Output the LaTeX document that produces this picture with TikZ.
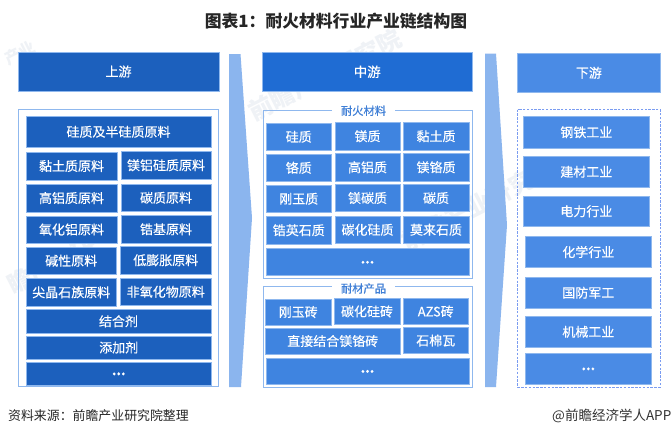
\documentclass[tikz,border=0pt]{standalone}
\usepackage{fontspec}
\setmainfont{Noto Sans CJK SC}
\newfontfamily\cellfont[FakeBold=0.3]{Noto Sans CJK SC}
\usetikzlibrary{calc}
\definecolor{darkblue}{HTML}{1C60BD}
\definecolor{midhead}{HTML}{1F6CD3}
\definecolor{lowhead}{HTML}{4A8BE5}
\definecolor{midblue}{HTML}{3F84E0}
\definecolor{edgeblue}{HTML}{8FB8EE}
\definecolor{arrowblue}{HTML}{8BB5EE}
\definecolor{labelblue}{HTML}{3F7FD6}
\definecolor{wmark}{HTML}{EFF2F6}
\tikzset{
  cell/.style={draw=edgeblue,line width=0.7pt,inner sep=0pt,outer sep=0pt,text=white,font=\cellfont\fontsize{13}{13}\selectfont,align=center},
  upcell/.style={cell,fill=darkblue},
  midcell/.style={cell,fill=midblue},
  lowcell/.style={cell,fill=lowhead},
  framebox/.style={draw=edgeblue,line width=0.8pt},
  dashframe/.style={draw=edgeblue!85!blue,line width=0.9pt,dash pattern=on 2.4pt off 1.4pt},
  flowarrow/.style={fill=arrowblue,draw=none},
  framelabel/.style={fill=white,inner sep=0pt,minimum width=63pt,minimum height=8pt,text=labelblue,font=\cellfont\fontsize{11.3}{11.3}\selectfont},
  wm/.style={text=wmark,font=\bfseries\fontsize{24}{24}\selectfont,rotate=27,inner sep=0pt},
}
% name, x1, y1, x2, y2, style, text
\newcommand{\cellbox}[7]{%
  \node[#6,minimum width=#4pt-#2pt,minimum height=#5pt-#3pt] (#1) at ({(#2+#4)/2*1pt},{-(#3+#5)/2*1pt}) {#7};}
\newcommand{\more}{\raisebox{-3.5pt}{\bfseries ...}}
\begin{document}
\begin{tikzpicture}[x=1pt,y=-1pt]
\useasboundingbox[fill=white] (0,0) rectangle (672,437);
% watermarks
\node[wm] (w1) at (325,75) {前瞻产业研究院};
\node[wm] (w2) at (478,205) {前瞻产业研究院};
\node[wm] (w3) at (52,265) {瞻产业研};
\node[wm,font=\bfseries\fontsize{16}{16}\selectfont] (w4) at (20,53) {产业};
% title and source
\node[font=\bfseries\fontsize{16.8}{16.8}\selectfont,text=black!85,inner sep=0pt] (title) at (336,21) {图表1：耐火材料行业产业链结构图};
\node[font=\fontsize{12.9}{12.9}\selectfont,text=black!85,inner sep=0pt,anchor=west] (source) at (8,416) {资料来源：前瞻产业研究院整理};
\node[font=\fontsize{13.5}{13.5}\selectfont,text=black!80,inner sep=0pt,anchor=east] (credit) at (671.5,416) {@前瞻经济学人APP};
% flow arrows
\fill[flowarrow] (229,54) -- (240.5,54) -- (252,218) -- (241,387) -- (229,387) -- cycle;
\fill[flowarrow] (485,53.5) -- (496,53.5) -- (507,225) -- (496,387) -- (485,387) -- cycle;
% headers
\cellbox{up}{18}{52}{219}{91}{upcell}{上游}
\cellbox{mid}{262.5}{52.5}{472}{91}{cell,fill=midhead,font=\cellfont\fontsize{13.5}{13.5}\selectfont}{中游}
\cellbox{low}{517.7}{53.5}{660}{92}{lowcell}{下游}
% frames
\draw[framebox] (18,109.5) rectangle (218,386);
\draw[framebox] (263,110.7) rectangle (472,278);
\draw[framebox] (263,286) rectangle (472,387);
\draw[dashframe] (517.5,109.5) rectangle (660,387);
\node[framelabel] (fl1) at (363.5,110.7) {耐火材料};
\node[framelabel] (fl2) at (363.5,288.5) {耐材产品};
% upstream
\cellbox{a1}{26}{116.5}{211}{147}{upcell}{硅质及半硅质原料}
\cellbox{a2}{26}{152}{117}{180}{upcell}{黏土质原料}
\cellbox{a3}{121}{151.5}{211}{179}{upcell}{镁铝硅质原料}
\cellbox{a4}{26}{184}{117}{212}{upcell}{高铝质原料}
\cellbox{a5}{121}{184}{211}{211.5}{upcell}{碳质原料}
\cellbox{a6}{26}{216}{117}{243}{upcell}{氧化铝原料}
\cellbox{a7}{121}{215.5}{211}{243}{upcell}{锆基原料}
\cellbox{a8}{26}{247}{116.5}{274.5}{upcell}{碱性原料}
\cellbox{a9}{120.5}{246.5}{211}{274}{upcell}{低膨胀原料}
\cellbox{a10}{26}{278.5}{116.5}{306}{upcell}{尖晶石族原料}
\cellbox{a11}{120.5}{278}{211}{305.5}{upcell}{非氧化物原料}
\cellbox{a12}{26}{309}{211}{333.5}{upcell}{结合剂}
\cellbox{a13}{26}{336}{211.5}{359}{upcell}{添加剂}
\cellbox{a14}{26}{362}{211.5}{385}{upcell}{\more}
% midstream: refractory materials
\cellbox{b1}{266}{123}{331.5}{150.5}{midcell}{硅质}
\cellbox{b2}{335}{122.5}{400}{150}{midcell}{镁质}
\cellbox{b3}{403}{122.5}{469}{150}{midcell}{黏土质}
\cellbox{b4}{266}{154}{331.5}{181.5}{midcell}{铬质}
\cellbox{b5}{335}{153.5}{400}{181}{midcell}{高铝质}
\cellbox{b6}{403}{153.5}{469}{181}{midcell}{镁铬质}
\cellbox{b7}{266}{185}{331.5}{212.5}{midcell}{刚玉质}
\cellbox{b8}{335}{184.5}{400}{211.5}{midcell}{镁碳质}
\cellbox{b9}{403}{184.5}{469}{211.5}{midcell}{碳质}
\cellbox{b10}{266}{216.5}{331.5}{244}{midcell}{锆英石质}
\cellbox{b11}{335}{216}{400}{243.5}{midcell}{碳化硅质}
\cellbox{b12}{403}{216}{469}{243.5}{midcell}{莫来石质}
\cellbox{b13}{266}{248.7}{469}{275}{midcell}{\more}
% midstream: refractory products
\cellbox{c1}{265.5}{299}{331}{325}{midcell}{刚玉砖}
\cellbox{c2}{334}{298.5}{400}{324.5}{midcell}{碳化硅砖}
\cellbox{c3}{403}{298.5}{468.5}{324.5}{midcell}{AZS砖}
\cellbox{c4}{265.5}{328}{400}{354}{midcell}{直接结合镁铬砖}
\cellbox{c5}{403}{327.5}{468.5}{353.5}{midcell}{石棉瓦}
\cellbox{c6}{266}{358}{469}{384}{midcell}{\more}
% downstream
\cellbox{d1}{523.7}{116.5}{649}{148}{lowcell}{钢铁工业}
\cellbox{d2}{523.7}{156.5}{649}{187}{lowcell}{建材工业}
\cellbox{d3}{523.7}{196}{649}{226.5}{lowcell}{电力行业}
\cellbox{d4}{525.7}{236.7}{651}{267.3}{lowcell}{化学行业}
\cellbox{d5}{525.7}{277}{651}{308.5}{lowcell}{国防军工}
\cellbox{d6}{525.7}{316.5}{651}{347}{lowcell}{机械工业}
\cellbox{d7}{525.7}{353}{651}{384}{lowcell}{\more}
\end{tikzpicture}
\end{document}
